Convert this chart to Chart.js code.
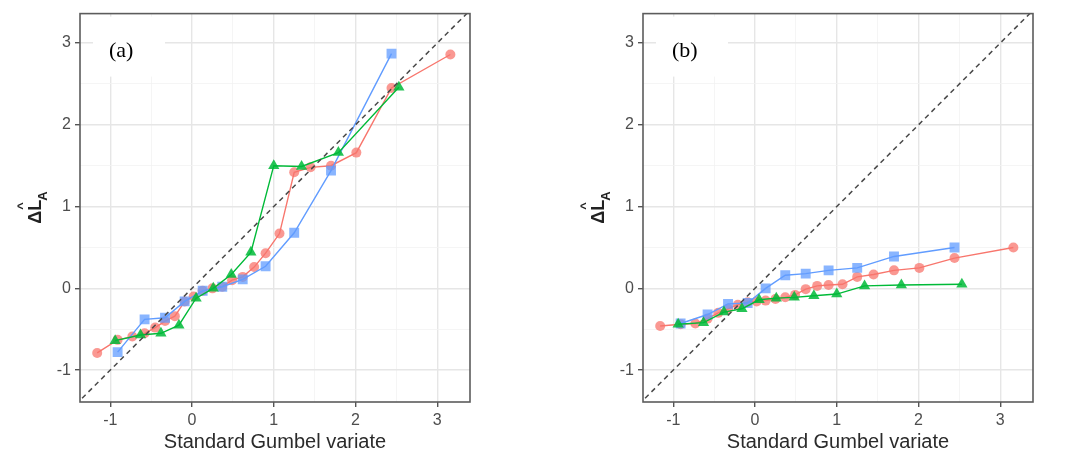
<!DOCTYPE html>
<html>
<head>
<meta charset="utf-8">
<script src="https://cdn.jsdelivr.net/npm/chart.js@4.4.1/dist/chart.umd.min.js"></script>
<style>
	html, body { margin: 0; padding: 0; background: #fff; }
	#wrap { position: relative; width: 1088px; height: 457px; overflow: hidden; }
	canvas { position: absolute; top: 0; }
</style>
</head>
<body>
<div id="wrap">
	<canvas id="panelA" width="544" height="457" style="left:0"></canvas>
	<canvas id="panelB" width="544" height="457" style="left:544px"></canvas>
</div>
<script>
// standard Gumbel variate (x positions) per series
const xRed = [-1.16, -0.91, -0.73, -0.58, -0.45, -0.33, -0.21, -0.09, 0.02, 0.13, 0.25, 0.37, 0.49, 0.62, 0.76, 0.9, 1.07, 1.25, 1.45, 1.7, 2.01, 2.44, 3.16];
const xBlue = [-0.91, -0.58, -0.33, -0.09, 0.13, 0.37, 0.62, 0.9, 1.25, 1.7, 2.44];
const xGreen = [-0.94, -0.63, -0.38, -0.16, 0.05, 0.26, 0.48, 0.72, 1.0, 1.34, 1.79, 2.53];

// panel (a) values
const redA = [-0.79, -0.63, -0.59, -0.55, -0.48, -0.4, -0.34, -0.16, -0.1, -0.03, 0.0, 0.02, 0.1, 0.14, 0.26, 0.43, 0.67, 1.42, 1.48, 1.5, 1.66, 2.45, 2.86];
const blueA = [-0.78, -0.38, -0.36, -0.16, -0.03, 0.02, 0.11, 0.27, 0.68, 1.44, 2.87];
const greenA = [-0.64, -0.57, -0.55, -0.45, -0.12, 0.0, 0.17, 0.44, 1.5, 1.49, 1.66, 2.46];

// panel (b) values
const redB = [-0.46, -0.44, -0.43, -0.37, -0.3, -0.25, -0.2, -0.17, -0.16, -0.15, -0.13, -0.11, -0.08, -0.01, 0.03, 0.04, 0.05, 0.14, 0.17, 0.22, 0.25, 0.37, 0.5];
const blueB = [-0.43, -0.32, -0.19, -0.18, 0.0, 0.16, 0.18, 0.22, 0.25, 0.39, 0.5];
const greenB = [-0.44, -0.42, -0.29, -0.25, -0.14, -0.12, -0.11, -0.09, -0.07, 0.03, 0.04, 0.05];

// 1:1 reference line ends, grid and tick labels
const refLine = [-1.5, 3.5];
const xGrid = [-1, -0.5, 0, 0.5, 1, 1.5, 2, 2.5, 3];
const yGrid = [-1, -0.5, 0, 0.5, 1, 1.5, 2, 2.5, 3];
const tickLabels = ["-1", "0", "1", "2", "3"];

const RED = "#F8766D";
const GREEN = "#00BA38";
const BLUE = "#619CFF";
const font = "'Liberation Sans', Arial, sans-serif";

const pairs = (xs, ys) => xs.map((x, i) => ({ x, y: ys[i] }));

const series = (data, color, fill, shape, radius, order) => ({
	data,
	showLine: true,
	borderColor: color,
	borderWidth: 1.4,
	backgroundColor: fill,
	pointBackgroundColor: fill,
	pointBorderColor: "rgba(0,0,0,0)",
	pointBorderWidth: 0,
	pointStyle: shape,
	pointRadius: radius,
	order,
});

const isMajor = v => Number.isInteger(v);

const gridOpts = {
	color: c => (isMajor(c.tick.value) ? "#E6E6E6" : "#F2F2F2"),
	lineWidth: c => (isMajor(c.tick.value) ? 1.4 : 0.8),
	tickColor: c => (isMajor(c.tick.value) ? "#555" : "rgba(0,0,0,0)"),
	tickLength: 5,
	drawTicks: true,
};

const tickFont = { family: font, size: 16 };
const label = v => (isMajor(v) && tickLabels.includes(String(v)) ? String(v) : "");

const decorations = tag => ({
	id: "decor" + tag,
	beforeDatasetsDraw(chart) {
		const { ctx, chartArea: a } = chart;
		ctx.save();
		ctx.fillStyle = "#fff";
		ctx.fillRect(a.left + 13, a.top + 3, 72, 60);
		ctx.fillStyle = "#000";
		ctx.font = "22px 'Liberation Serif', 'Times New Roman', serif";
		ctx.textBaseline = "middle";
		ctx.fillText(tag, a.left + 29, a.top + 38);
		ctx.restore();
	},
	afterDraw(chart) {
		const { ctx, chartArea: a } = chart;
		ctx.save();
		ctx.strokeStyle = "#5c5c5c";
		ctx.lineWidth = 1.6;
		ctx.strokeRect(a.left, a.top, a.right - a.left, a.bottom - a.top);

		// x axis title
		ctx.fillStyle = "#2b2b2b";
		ctx.font = "20px " + font;
		ctx.textAlign = "center";
		ctx.textBaseline = "middle";
		ctx.fillText("Standard Gumbel variate", (a.left + a.right) / 2, 442);

		// y axis title, rotated
		const cy = (a.top + a.bottom) / 2;
		ctx.translate(a.left - 39, cy);
		ctx.rotate(-Math.PI / 2);
		ctx.fillStyle = "#222";
		ctx.textAlign = "left";
		ctx.textBaseline = "alphabetic";
		ctx.font = "bold 18px " + font;
		const w1 = ctx.measureText("Δ").width;
		const w2 = ctx.measureText("L").width;
		const start = -(w1 + w2 + 8) / 2;
		ctx.fillText("Δ", start, 0);
		ctx.fillText("L", start + w1, 0);
		ctx.font = "bold 13px " + font;
		ctx.fillText("^", start + w1 + 1, -15);
		ctx.fillText("A", start + w1 + w2 - 1, 6);
		ctx.restore();
	},
});

const makePanel = (id, tag, red, blue, green, yWidth) => {
	new Chart(document.getElementById(id), {
		type: "scatter",
		data: {
			datasets: [
				{
					data: refLine.map(v => ({ x: v, y: v })),
					showLine: true,
					borderColor: "#4a4a4a",
					borderWidth: 1.5,
					borderDash: [5, 4],
					pointRadius: 0,
					order: 0,
				},
				series(pairs(xGreen, green), GREEN, "rgba(0,186,56,0.85)", "triangle", 6.5, 1),
				series(pairs(xBlue, blue), BLUE, "rgba(97,156,255,0.75)", "rect", 7, 2),
				series(pairs(xRed, red), RED, "rgba(248,118,109,0.75)", "circle", 5, 3),
			],
		},
		options: {
			responsive: false,
			animation: false,
			devicePixelRatio: 1,
			layout: { padding: { left: 0, right: 544 - yWidth - 390, top: 10, bottom: 0 } },
			plugins: { legend: { display: false }, tooltip: { enabled: false } },
			scales: {
				x: {
					type: "linear",
					min: -1.37,
					max: 3.4,
					afterBuildTicks: s => { s.ticks = xGrid.map(value => ({ value })); },
					afterFit: s => { s.height = 55; },
					grid: gridOpts,
					border: { display: false },
					ticks: { font: tickFont, color: "#4D4D4D", padding: 4, maxRotation: 0, autoSkip: false, callback: label },
				},
				y: {
					type: "linear",
					min: -1.39,
					max: 3.36,
					afterBuildTicks: s => { s.ticks = yGrid.map(value => ({ value })); },
					afterFit: s => { s.width = yWidth; },
					grid: gridOpts,
					border: { display: false },
					ticks: { font: tickFont, color: "#4D4D4D", padding: 4, autoSkip: false, callback: label },
				},
			},
		},
		plugins: [decorations(tag)],
	});
};

makePanel("panelA", "(a)", redA, blueA, greenA, 80);
makePanel("panelB", "(b)", redB, blueB, greenB, 99);
</script>
</body>
</html>
